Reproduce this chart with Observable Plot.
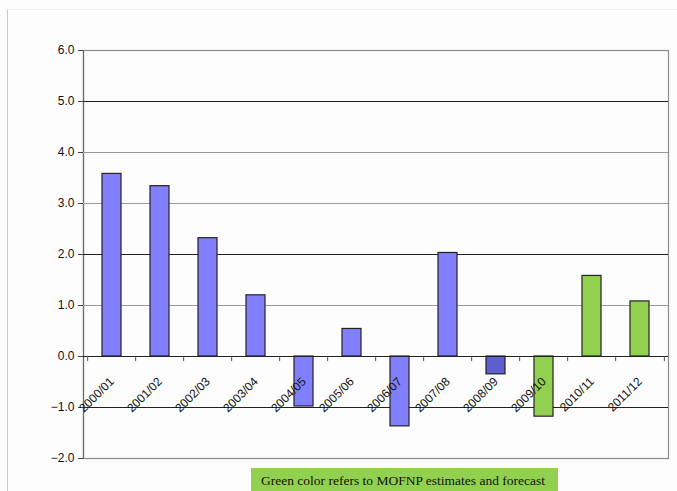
<!DOCTYPE html>
<html>
<head>
<meta charset="utf-8">
<script src="https://cdn.jsdelivr.net/npm/d3@7"></script>
<script src="https://cdn.jsdelivr.net/npm/@observablehq/plot@0.6"></script>
<style>
  html, body { margin: 0; padding: 0; background: #fdfdfd; }
  #wrap { position: relative; width: 677px; height: 491px; overflow: hidden; }
  #frame { position: absolute; left: 7px; top: 9px; right: 0; bottom: 0; border-left: 1px solid #c8c8c8; border-top: 1px solid #f0f0f0; }
  #chart { position: absolute; left: 0; top: 0; }
  #caption { position: absolute; left: 251px; top: 468px; width: 307px; height: 30px; background: #92d050;
    font-family: "Liberation Serif", "Times New Roman", serif; font-size: 13.5px; color: #111; padding-left: 10px; box-sizing: border-box; line-height: 25px; }
</style>
</head>
<body>
<div id="wrap">
  <div id="frame"></div>
  <div id="chart"></div>
  <div id="caption">Green color refers to MOFNP estimates and forecast</div>
</div>
<script>
const years = ["2000/01","2001/02","2002/03","2003/04","2004/05","2005/06","2006/07","2007/08","2008/09","2009/10","2010/11","2011/12"];
const values = [3.58, 3.34, 2.32, 1.20, -0.98, 0.54, -1.37, 2.03, -0.35, -1.18, 1.58, 1.08];
const status = ["actual","actual","actual","actual","actual","actual","actual","actual","preliminary","estimate","forecast","forecast"];
const yTicks = [-2, -1, 0, 1, 2, 3, 4, 5, 6];
const darkGrid = [5, 2, -1];
const lightGrid = [1, 3, 4];

const data = years.map((y, i) => ({year: y, value: values[i], status: status[i]}));

const chart = Plot.plot({
  width: 677,
  height: 466,
  marginTop: 50,
  marginBottom: 8,
  marginLeft: 83,
  marginRight: 9,
  style: {background: "transparent", fontFamily: "'Liberation Sans', Arial, sans-serif", fontSize: "12px", color: "#111"},
  x: {domain: years, paddingInner: 0.6, paddingOuter: 0.3, axis: null},
  y: {domain: [-2, 6], axis: null},
  color: {domain: ["actual","preliminary","estimate","forecast"], range: ["#8080ff","#5f5fd0","#92d050","#92d050"]},
  marks: [
    Plot.frame({stroke: "#8a8a8a", strokeWidth: 1.2}),
    Plot.frame({anchor: "left", stroke: "#6a6a6a", strokeWidth: 1.2}),
    Plot.ruleY(lightGrid, {stroke: "#9a9a9a", strokeWidth: 1}),
    Plot.ruleY(darkGrid, {stroke: "#222", strokeWidth: 1.2}),
    Plot.barY(data, {x: "year", y: "value", fill: "status", stroke: "#222", strokeWidth: 1.2}),
    Plot.ruleY([0], {stroke: "#222", strokeWidth: 1.2}),
    Plot.ruleX(years, {x: d => d, y1: 0, y2: -0.1, dx: -24.375, stroke: "#555"}),
    Plot.ruleX([years[years.length - 1]], {x: d => d, y1: 0, y2: -0.1, dx: 24.375, stroke: "#555"}),
    Plot.axisY({ticks: yTicks, tickFormat: d3.format(".1f"), tickSize: 5, tickPadding: 4, stroke: "#444", fill: "#111", label: null}),
    Plot.text(years, {x: d => d, y: 0, text: d => d, rotate: -45, textAnchor: "end", dy: 23, dx: 0, fill: "#111", fontSize: 12})
  ]
});
document.getElementById("chart").appendChild(chart);
</script>
</body>
</html>
